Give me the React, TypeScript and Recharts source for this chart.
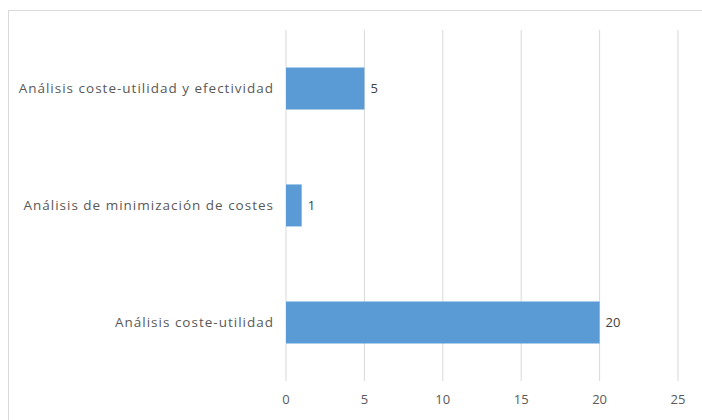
import React from "react";
import { BarChart, Bar, XAxis, YAxis, CartesianGrid, LabelList } from "recharts";

const categories = [
  "Análisis coste-utilidad y efectividad",
  "Análisis de minimización de costes",
  "Análisis coste-utilidad",
];
const values = [5, 1, 20];
const xTicks = [0, 5, 10, 15, 20, 25];

const data = categories.map((name, i) => ({ name, value: values[i] }));

const FONT = "'Open Sans', 'Noto Sans', sans-serif";

export default function App() {
  return (
    <div style={{ width: 686, height: 404 }}>
      <div
        style={{
          position: "fixed",
          left: 8,
          top: 10,
          width: 720,
          height: 440,
          border: "1px solid #d9d9d9",
          background: "#fff",
          fontFamily: FONT,
        }}
      >
        <BarChart
          width={694}
          height={420}
          data={data}
          layout="vertical"
          margin={{ top: 19, right: 25, bottom: 20, left: 0 }}
          barCategoryGap="32%"
        >
          <CartesianGrid horizontal={false} vertical={true} stroke="#d9d9d9" />
          <XAxis
            type="number"
            domain={[0, 25]}
            ticks={xTicks}
            axisLine={false}
            tickLine={false}
            tickSize={0}
            tickMargin={14}
            height={30}
            tick={{ fill: "#595959", fontSize: 13, fontFamily: FONT }}
          />
          <YAxis
            type="category"
            dataKey="name"
            width={277}
            axisLine={false}
            tickLine={false}
            tickSize={0}
            tickMargin={12}
            tick={{ fill: "#595959", fontSize: 13.5, letterSpacing: 1, fontFamily: FONT }}
          />
          <Bar dataKey="value" fill="#5B9BD5" isAnimationActive={false}>
            <LabelList
              dataKey="value"
              position="right"
              offset={6}
              style={{ fill: "#404040", fontSize: 13, fontFamily: FONT }}
            />
          </Bar>
        </BarChart>
      </div>
    </div>
  );
}
